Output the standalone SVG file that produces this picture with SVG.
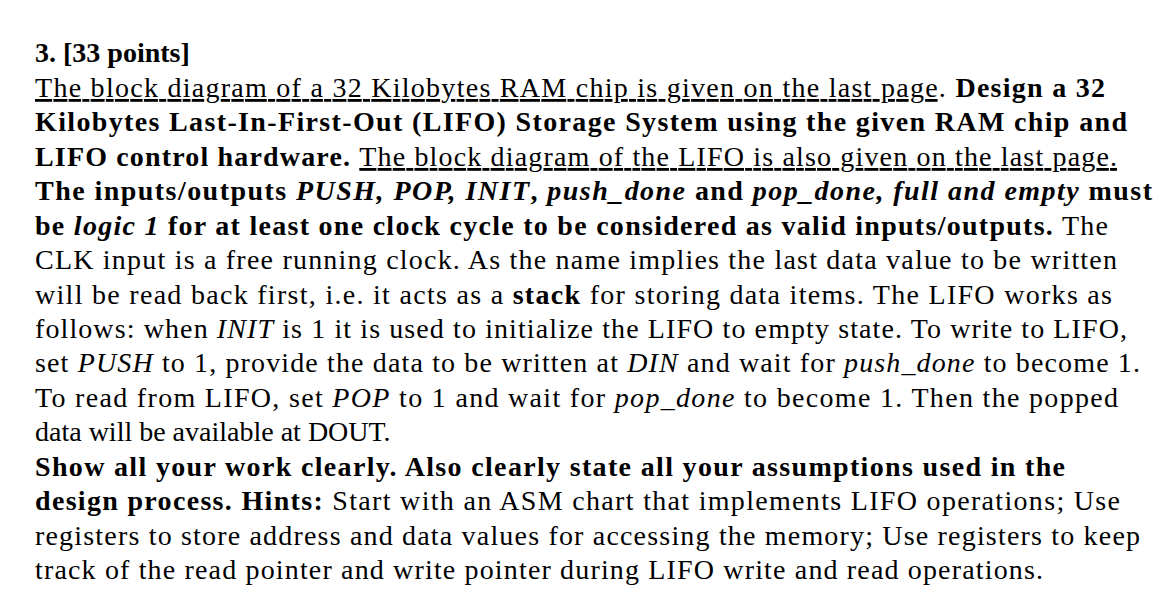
<svg xmlns="http://www.w3.org/2000/svg" width="1170" height="612" viewBox="0 0 1170 612">
<style>
text{font-family:"Liberation Serif","Times New Roman",serif;font-size:28px;fill:#000}
.b{font-weight:bold}.i{font-style:italic}.u{text-decoration:underline}
</style>
<rect width="1170" height="612" fill="#fff"/>
<text x="35" y="62" class="b">3. [33 points]</text>
<text x="35" y="97" textLength="1070" lengthAdjust="spacing"><tspan class="u">The block diagram of a 32 Kilobytes RAM chip is given on the last page</tspan>. <tspan class="b">Design a 32</tspan></text>
<text x="35" y="131" textLength="1092" lengthAdjust="spacing" class="b">Kilobytes Last-In-First-Out (LIFO) Storage System using the given RAM chip and</text>
<text x="35" y="166" textLength="1082" lengthAdjust="spacing"><tspan class="b">LIFO control hardware. </tspan><tspan class="u">The block diagram of the LIFO is also given on the last page.</tspan></text>
<text x="35" y="200" textLength="1117" lengthAdjust="spacing" class="b">The inputs/outputs <tspan class="i">PUSH, POP, INIT</tspan>, <tspan class="i">push_done</tspan> and <tspan class="i">pop_done, full and empty</tspan> must</text>
<text x="35" y="235" textLength="1073" lengthAdjust="spacing"><tspan class="b">be <tspan class="i">logic 1</tspan> for at least one clock cycle to be considered as valid inputs/outputs.</tspan> The</text>
<text x="35" y="269" textLength="1082" lengthAdjust="spacing">CLK input is a free running clock. As the name implies the last data value to be written</text>
<text x="35" y="304" textLength="1077" lengthAdjust="spacing">will be read back first, i.e. it acts as a <tspan class="b">stack</tspan> for storing data items. The LIFO works as</text>
<text x="35" y="338" textLength="1092" lengthAdjust="spacing">follows: when <tspan class="i">INIT</tspan> is 1 it is used to initialize the LIFO to empty state. To write to LIFO,</text>
<text x="35" y="372" textLength="1105" lengthAdjust="spacing">set <tspan class="i">PUSH</tspan> to 1, provide the data to be written at <tspan class="i">DIN</tspan> and wait for <tspan class="i">push_done</tspan> to become 1.</text>
<text x="35" y="407" textLength="1083" lengthAdjust="spacing">To read from LIFO, set <tspan class="i">POP</tspan> to 1 and wait for <tspan class="i">pop_done</tspan> to become 1. Then the popped</text>
<text x="35" y="441">data will be available at DOUT.</text>
<text x="35" y="476" textLength="1030" lengthAdjust="spacing" class="b">Show all your work clearly. Also clearly state all your assumptions used in the</text>
<text x="35" y="510" textLength="1085" lengthAdjust="spacing"><tspan class="b">design process. Hints:</tspan> Start with an ASM chart that implements LIFO operations; Use</text>
<text x="35" y="545" textLength="1105" lengthAdjust="spacing">registers to store address and data values for accessing the memory; Use registers to keep</text>
<text x="35" y="579" textLength="1008" lengthAdjust="spacing">track of the read pointer and write pointer during LIFO write and read operations.</text>
</svg>
